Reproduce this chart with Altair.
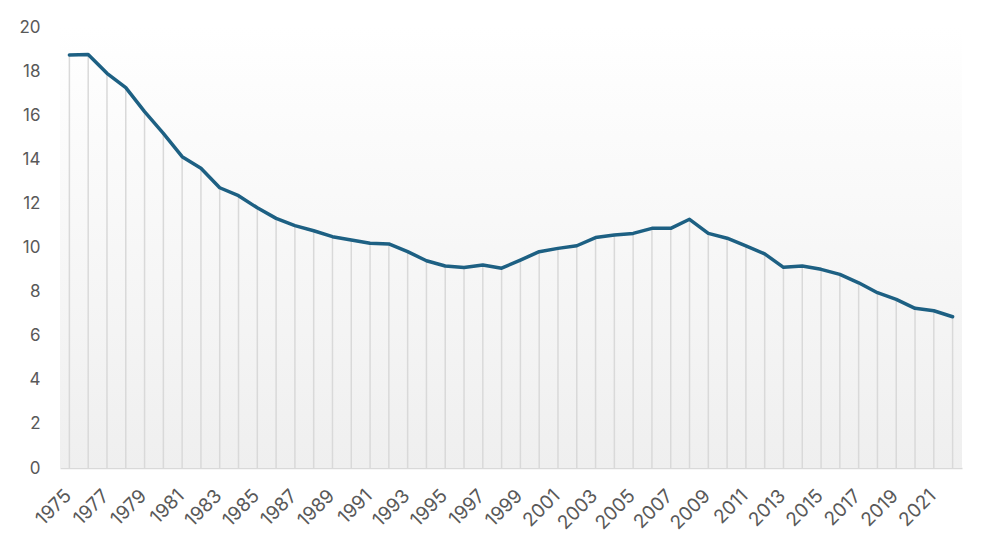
import pandas as pd
import altair as alt

annees = list(range(1975, 2023))
valeurs = [
    18.73, 18.75, 17.90, 17.25, 16.16, 15.18, 14.12, 13.59, 12.71, 12.35,
    11.80, 11.32, 10.99, 10.76, 10.49, 10.34, 10.19, 10.16, 9.81, 9.40,
    9.16, 9.09, 9.21, 9.06, 9.43, 9.81, 9.96, 10.08, 10.45, 10.57,
    10.64, 10.87, 10.87, 11.28, 10.64, 10.42, 10.07, 9.71, 9.10, 9.16,
    9.01, 8.78, 8.40, 7.95, 7.65, 7.24, 7.13, 6.86,
]
etiquettes_x = list(range(1975, 2022, 2))
etiquettes_y = list(range(0, 21, 2))

donnees = pd.DataFrame({"annee": annees, "valeur": valeurs})

LARGEUR = 902
HAUTEUR = 441
POLICE = "Inter"
GRIS_TEXTE = "#595959"

x = alt.X(
    "annee:Q",
    title=None,
    scale=alt.Scale(domain=[1974.5, 2022.5], nice=False, zero=False),
    axis=alt.Axis(
        values=etiquettes_x,
        format="d",
        labelAngle=-45,
        labelFontSize=19,
        labelColor=GRIS_TEXTE,
        labelFont=POLICE,
        labelPadding=18,
        labelOffset=-8,
        ticks=False,
        grid=False,
        domainColor="#d9d9d9",
        domainWidth=1.5,
        labelOverlap=False,
    ),
)
y = alt.Y(
    "valeur:Q",
    title=None,
    scale=alt.Scale(domain=[0, 20], nice=False),
    axis=alt.Axis(
        values=etiquettes_y,
        labelFontSize=17,
        labelColor=GRIS_TEXTE,
        labelFont=POLICE,
        labelPadding=20,
        ticks=False,
        grid=False,
        domain=False,
    ),
)

fond = alt.Chart(pd.DataFrame({"a": [0]})).mark_rect(
    color=alt.Gradient(
        gradient="linear",
        stops=[
            alt.GradientStop(color="#ffffff", offset=0),
            alt.GradientStop(color="#efefef", offset=1),
        ],
        x1=0, x2=0, y1=0, y2=1,
    )
).encode(
    x=alt.value(0), x2=alt.value(LARGEUR),
    y=alt.value(0), y2=alt.value(HAUTEUR),
)

tiges = alt.Chart(donnees).mark_rule(
    color="#d9d9d9",
    strokeWidth=1.5
).encode(
    x=x,
    y=y,
    y2=alt.datum(0),
)

ligne = alt.Chart(donnees).mark_line(
    color="#1d6083",
    strokeWidth=3.5,
    strokeJoin="round",
    strokeCap="round",
).encode(x=x, y=y)

chart = (fond + tiges + ligne).properties(
    width=LARGEUR,
    height=HAUTEUR,
    autosize=alt.AutoSizeParams(type="none"),
    padding={"left": 52, "top": 19, "right": 28, "bottom": 70},
).configure_view(stroke=None)

chart.save("out.html", embed_options={"renderer": "svg", "actions": False})
